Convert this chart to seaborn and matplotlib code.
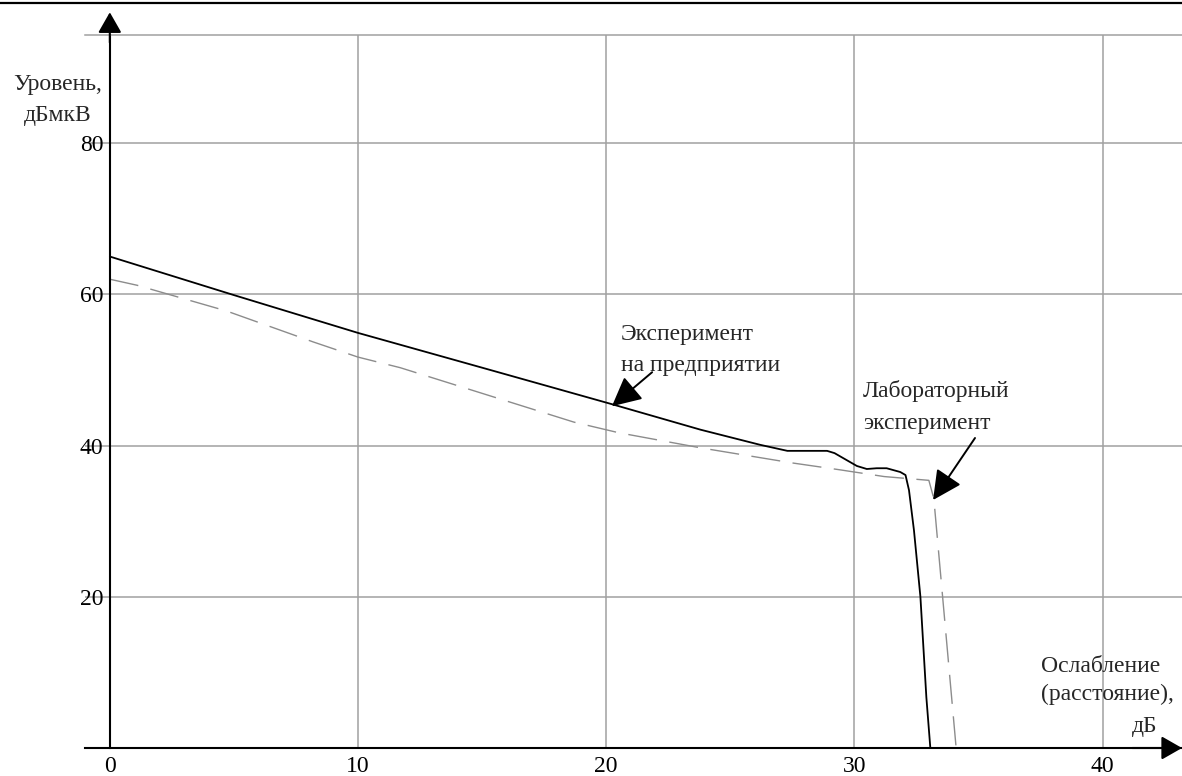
import matplotlib
matplotlib.use("Agg")
import matplotlib.pyplot as plt
from matplotlib.lines import Line2D
import seaborn as sns
import pandas as pd

# Data
plant_x = [0, 5, 10, 15, 20.2, 23.8, 26.2, 27.3, 28.9, 29.2, 30.1, 30.5, 30.9,
           31.3, 31.85, 32.06, 32.2, 32.4, 32.66, 32.9, 33.06]
plant_y = [65.0, 59.9, 54.9, 50.3, 45.5, 42.1, 40.1, 39.3, 39.3, 39.0, 37.3, 36.9,
           37.0, 37.0, 36.5, 36.1, 34.1, 28.8, 20.0, 6.7, 0.0]

lab_x = [0, 1.1, 4.7, 8.2, 10, 11.7, 15.2, 18.7, 20.5, 23.8, 27.5, 29.4, 31.2,
         33.0, 33.2, 34.1, 41.5]
lab_y = [62.0, 61.2, 57.8, 53.7, 51.7, 50.3, 46.7, 43.1, 41.7, 39.7, 37.7, 36.8,
         35.9, 35.4, 33.0, 0.0, 0.0]

x_ticks = [0, 10, 20, 30, 40]
y_ticks = [20, 40, 60, 80]

y_label = "Уровень,\nдБмкВ"
x_label_1 = "Ослабление\n(расстояние),"
x_label_2 = "дБ"
plant_label = "Эксперимент\nна предприятии"
lab_label = "Лабораторный\nэксперимент"

sns.set_style("white")
plt.rcParams["font.family"] = ["Liberation Serif", "DejaVu Serif"]
FS = 17
LS = 1.65

W, H = 1182, 776
fig = plt.figure(figsize=(W / 100, H / 100), dpi=100)
ax = fig.add_axes([85 / W, (H - 748) / H, (W - 85) / W, (748 - 35) / H])

grid_c = "#a0a0a0"
xmin, xmax, ymin, ymax = -1.0, 43.2, 0, 94.3
ax.set_xlim(xmin, xmax)
ax.set_ylim(ymin, ymax)

for xv in x_ticks[1:]:
    ax.axvline(xv, color=grid_c, lw=1.1, zorder=0)
for yv in y_ticks:
    ax.axhline(yv, color=grid_c, lw=1.1, zorder=0)

plant = pd.DataFrame({"x": plant_x, "y": plant_y})
lab = pd.DataFrame({"x": lab_x, "y": lab_y})
sns.lineplot(data=lab, x="x", y="y", sort=False, estimator=None, ax=ax,
             color="#8c8c8c", linewidth=1.0, linestyle=(0, (21, 9)), zorder=2)
sns.lineplot(data=plant, x="x", y="y", sort=False, estimator=None, ax=ax,
             color="black", linewidth=1.3, zorder=3)
ax.set_xlabel("")
ax.set_ylabel("")

# spines as axis lines
ax.spines["left"].set_position(("data", 0))
ax.spines["left"].set_linewidth(1.5)
ax.spines["bottom"].set_linewidth(1.5)
ax.spines["right"].set_visible(False)
ax.spines["top"].set_color(grid_c)
ax.spines["top"].set_linewidth(1.1)
for s in ("left", "bottom"):
    ax.spines[s].set_color("black")

ax.set_xticks(x_ticks)
ax.set_yticks(y_ticks)
ax.tick_params(axis="both", direction="inout", length=9, width=1.2,
               colors="black", labelsize=FS)
ax.tick_params(axis="x", pad=1)
ax.tick_params(axis="y", pad=0)

# axis arrows
arrow = dict(arrowstyle="-|>,head_length=0.7,head_width=0.4", color="black",
             lw=1.5, shrinkA=0, shrinkB=0, mutation_scale=18)
ax.annotate("", xy=(0, ymax + 3.0), xytext=(0, ymax - 1), arrowprops=arrow,
            annotation_clip=False)
ax.annotate("", xy=(xmax, 0), xytext=(xmax - 2, 0), arrowprops=arrow,
            annotation_clip=False)

# axis titles
fig.text(58 / W, 1 - 100 / H, y_label, ha="center", va="center",
         multialignment="center", fontsize=FS, linespacing=LS)
ax.text(37.5, 8.9, x_label_1, ha="left", va="center", fontsize=FS,
        linespacing=1.45, clip_on=False)
ax.text(41.7, 2.8, x_label_2, ha="center", va="center", fontsize=FS,
        clip_on=False)

# curve annotations
pointer = dict(arrowstyle="-|>,head_length=1.0,head_width=0.5", color="black",
               lw=1.4, shrinkA=0, shrinkB=0, mutation_scale=18)
ax.text(20.6, 52.6, plant_label, ha="left", va="center", fontsize=FS,
        linespacing=LS)
ax.annotate("", xy=(20.23, 45.2), xytext=(21.85, 49.7), arrowprops=pointer)
ax.text(30.35, 45.1, lab_label, ha="left", va="center", fontsize=FS,
        linespacing=LS)
ax.annotate("", xy=(33.17, 32.8), xytext=(34.86, 41.0), arrowprops=pointer)

# page border line at the top
fig.add_artist(Line2D([0, 1], [1 - 3 / H, 1 - 3 / H], transform=fig.transFigure,
                      color="black", lw=1.6))

fig.savefig("out.png", dpi=100)
